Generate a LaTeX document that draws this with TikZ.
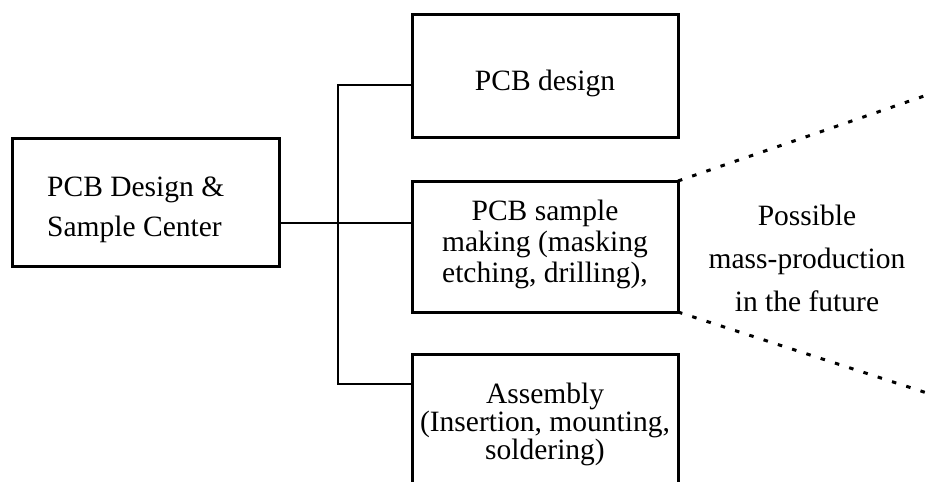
\documentclass[tikz,border=0pt]{standalone}
\usepackage{fontspec}
\setmainfont{Liberation Serif}
\begin{document}
\begin{tikzpicture}[x=1pt,y=-1pt,
  box/.style={draw, line width=3pt, inner sep=0pt, outer sep=0pt, minimum width=266pt},
  txt/.style={align=center, inner sep=0pt, font=\fontsize{29.5}{#1}\selectfont},
  txt/.default=31,
  link/.style={line width=2.5pt},
  future/.style={line width=3pt, dash pattern=on 4.5pt off 10.5pt}]

\useasboundingbox (0,0) rectangle (927,482);
\clip (0,0) rectangle (927,482);

% boxes
\node[box, minimum width=267pt, minimum height=128pt] (center) at (145.5,202) {};
\node[box, minimum height=123pt] (design) at (545,75.5) {};
\node[box, minimum height=131pt] (sample) at (545,246.5) {};
\node[box, minimum height=134pt] (assembly) at (545,421) {};

% box texts
\node[txt=40, align=left, anchor=west] (centerText) at (47,210) {PCB Design \&\\Sample Center};
\node[txt] (designText) at (545,83) {PCB design};
\node[txt=31] (sampleText) at (545,244) {PCB sample\\making (masking\\etching, drilling),};
\node[txt=28] (assemblyText) at (545,424) {Assembly\\(Insertion, mounting,\\soldering)};
\node[txt=43] (futureText) at (807,258) {Possible\\mass-production\\in the future};

% tree connectors
\coordinate (jm) at (338,223);
\coordinate (jt) at (338,85);
\coordinate (jb) at (338,384);
\draw[link] (jm -| center.east) -- (jm -| sample.west);
\draw[link] (jt -| design.west) -- (jt) -- (jb) -- (jb -| assembly.west);

% outlook to mass production
\coordinate (ft) at (927,95);
\coordinate (fb) at (927,393);
\draw[future] (sample.north east) -- (ft);
\draw[future] (sample.south east) -- (fb);
\end{tikzpicture}
\end{document}
